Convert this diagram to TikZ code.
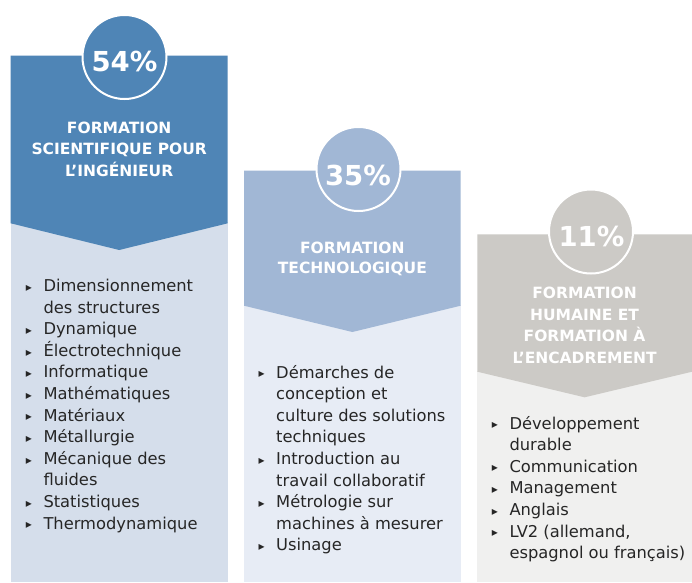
\documentclass[tikz,border=0pt]{standalone}
\usepackage{fontspec}
\setmainfont{DejaVu Sans}
\definecolor{hdrA}{HTML}{4F85B6}
\definecolor{bodyA}{HTML}{D5DEEB}
\definecolor{hdrB}{HTML}{A1B7D5}
\definecolor{bodyB}{HTML}{E7ECF5}
\definecolor{hdrC}{HTML}{CCCAC6}
\definecolor{bodyC}{HTML}{F0F0EF}
\definecolor{txt}{HTML}{262626}
\newcommand\bitem[1]{\hbox{\llap{\raisebox{0.3pt}{\fontsize{12}{12}\selectfont ▸}\hskip 11.5pt}#1}}
\newcommand\bcont[1]{\hbox{#1}}
\begin{document}
\begin{tikzpicture}[x=1pt,y=-1pt,
  pctcircle/.style={circle,draw=white,line width=2pt,minimum size=84pt,inner sep=0pt,outer sep=0pt},
  pcttext/.style={text=white,font=\bfseries\fontsize{27.5}{30}\selectfont,inner sep=0pt,anchor=base},
  hdrtext/.style={text=white,font=\bfseries\fontsize{15.5}{21.4}\selectfont,inner sep=0pt,anchor=base},
  bodytext/.style={text=txt,font=\fontsize{16.3}{21.6}\selectfont,inner sep=0pt,anchor=base west}]
\useasboundingbox (0,0) rectangle (692,582);
\fill[white] (0,0) rectangle (692,582);

% ---- column 1
\fill[bodyA] (10.7,222) rectangle (227.7,582);
\fill[hdrA] (10.7,55.7) -- (227.7,55.7) -- (227.7,223.3) -- (119.2,250) -- (10.7,223.3) -- cycle;
\node[pctcircle,fill=hdrA] (c1) at (124.5,57) {};
\node[pcttext] (p1) at (124.5,71.7) {54\%};
\node[hdrtext] (h1) at (119.2,133.3) {\vtop{\hsize=215pt\parindent=0pt\centering FORMATION\\SCIENTIFIQUE POUR\\L’INGÉNIEUR\par}};
\node[bodytext] (b1) at (43.3,291.5) {\vtop{\hsize=190pt\parindent=0pt\lineskiplimit=-30pt
  \bitem{Dimensionnement}
  \bcont{des structures}
  \bitem{Dynamique}
  \bitem{Électrotechnique}
  \bitem{Informatique}
  \bitem{Mathématiques}
  \bitem{Matériaux}
  \bitem{Métallurgie}
  \bitem{Mécanique des}
  \bcont{fluides}
  \bitem{Statistiques}
  \bitem{Thermodynamique}}};

% ---- column 2
\fill[bodyB] (244,304.5) rectangle (460.7,582);
\fill[hdrB] (244,170.7) -- (460.7,170.7) -- (460.7,305.7) -- (352.35,332) -- (244,305.7) -- cycle;
\node[pctcircle,fill=hdrB] (c2) at (358.5,169) {};
\node[pcttext] (p2) at (358,185.7) {35\%};
\node[hdrtext] (h2) at (352.35,253.3) {\vtop{\hsize=215pt\parindent=0pt\baselineskip=20.3pt\centering FORMATION\\TECHNOLOGIQUE\par}};
\node[bodytext] (b2) at (276,378) {\vtop{\hsize=190pt\parindent=0pt\lineskiplimit=-30pt
  \bitem{Démarches de}
  \bcont{conception et}
  \bcont{culture des solutions}
  \bcont{techniques}
  \bitem{Introduction au}
  \bcont{travail collaboratif}
  \bitem{Métrologie sur}
  \bcont{machines à mesurer}
  \bitem{Usinage}}};

% ---- column 3
\fill[bodyC] (477.3,370.5) rectangle (692,582);
\fill[hdrC] (477.3,234.3) -- (692,234.3) -- (692,371.7) -- (584.6,397.3) -- (477.3,371.7) -- cycle;
\node[pctcircle,fill=hdrC] (c3) at (591,231.5) {};
\node[pcttext] (p3) at (591.5,246.7) {11\%};
\node[hdrtext] (h3) at (584.6,298.3) {\vtop{\hsize=215pt\parindent=0pt\baselineskip=21.7pt\centering FORMATION\\HUMAINE ET\\FORMATION À\\L’ENCADREMENT\par}};
\node[bodytext] (b3) at (509.3,429) {\vtop{\hsize=190pt\parindent=0pt\lineskiplimit=-30pt
  \bitem{Développement}
  \bcont{durable}
  \bitem{Communication}
  \bitem{Management}
  \bitem{Anglais}
  \bitem{LV2 (allemand,}
  \bcont{espagnol ou français)}}};
\end{tikzpicture}
\end{document}
